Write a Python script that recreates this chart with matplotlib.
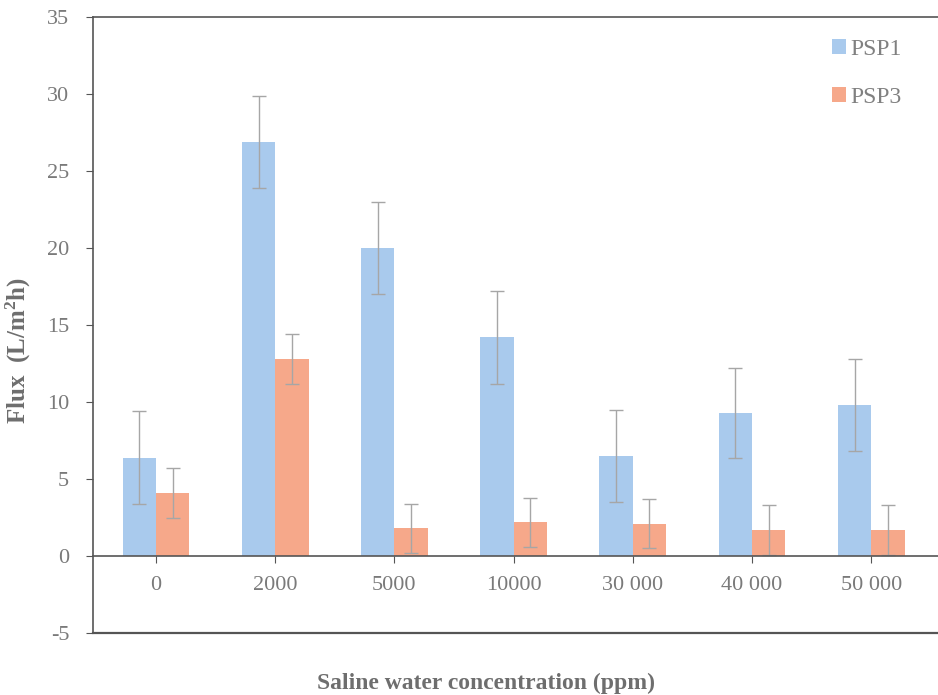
import numpy as np
from matplotlib import pyplot as plt

# concentrações e fluxos
categorias = ["0", "2000", "5000", "10000", "30 000", "40 000", "50 000"]
psp1 = [6.4, 26.9, 20.0, 14.2, 6.5, 9.3, 9.8]
psp1_err = [3.0, 3.0, 3.0, 3.0, 3.0, 2.9, 3.0]
psp3 = [4.1, 12.8, 1.8, 2.2, 2.1, 1.7, 1.7]
psp3_err = [1.6, 1.6, 1.6, 1.6, 1.6, 1.6, 1.6]

plt.rcParams['font.family'] = ['Liberation Serif', 'DejaVu Serif']
plt.rcParams['axes.unicode_minus'] = False
plt.rcParams['mathtext.fontset'] = 'custom'
plt.rcParams['mathtext.rm'] = 'Liberation Serif:bold'

fig = plt.figure(figsize=(9.38, 6.95), dpi=100)
ax = fig.add_axes([0.099, 0.089, 0.92, 0.8865])

x = np.arange(len(categorias))
w = 0.28
err_kw = dict(ecolor='#a6a6a6', elinewidth=1.0, capsize=5, capthick=1.0)
ax.bar(x - w / 2, psp1, w, yerr=psp1_err, color='#a9caed', label='PSP1', error_kw=err_kw)
ax.bar(x + w / 2, psp3, w, yerr=psp3_err, color='#f6a88a', label='PSP3', error_kw=err_kw)

ax.set_ylim(-5, 35)
ax.set_yticks(range(-5, 36, 5))
ax.set_xlim(-0.53, 6.71)
ax.set_xticks(x)
ax.set_xticklabels(categorias)

# eixo x passa pelo zero, linha extra em -5
ax.spines['bottom'].set_position(('data', 0))
ax.spines['right'].set_visible(False)
for s in ['left', 'bottom', 'top']:
    ax.spines[s].set_color('#555555')
    ax.spines[s].set_linewidth(1.2)
ax.axhline(-5, color='#555555', linewidth=1.6, clip_on=False)

ax.tick_params(axis='both', colors='#555555', labelcolor='#7a7a7a', labelsize=16,
               direction='out', length=5)
ax.tick_params(axis='x', pad=9)
ax.tick_params(axis='y', pad=12)

ax.set_ylabel('Flux  (L/m$\\mathrm{^{2}}$h)', fontsize=18, fontweight='bold', color='#6e6e6e')
ax.yaxis.set_label_coords(-0.069, 0.459)
fig.text(0.518, 0.008, 'Saline water concentration (ppm)', fontsize=17, fontweight='bold',
         color='#6e6e6e', ha='center')

leg = ax.legend(loc='upper left', bbox_to_anchor=(0.864, 0.975), bbox_transform=fig.transFigure,
                frameon=False, fontsize=17, handlelength=0.6, handleheight=0.6,
                handletextpad=0.2, labelspacing=1.15)
for t in leg.get_texts():
    t.set_color('#808080')

fig.savefig('out.png', dpi=100)
